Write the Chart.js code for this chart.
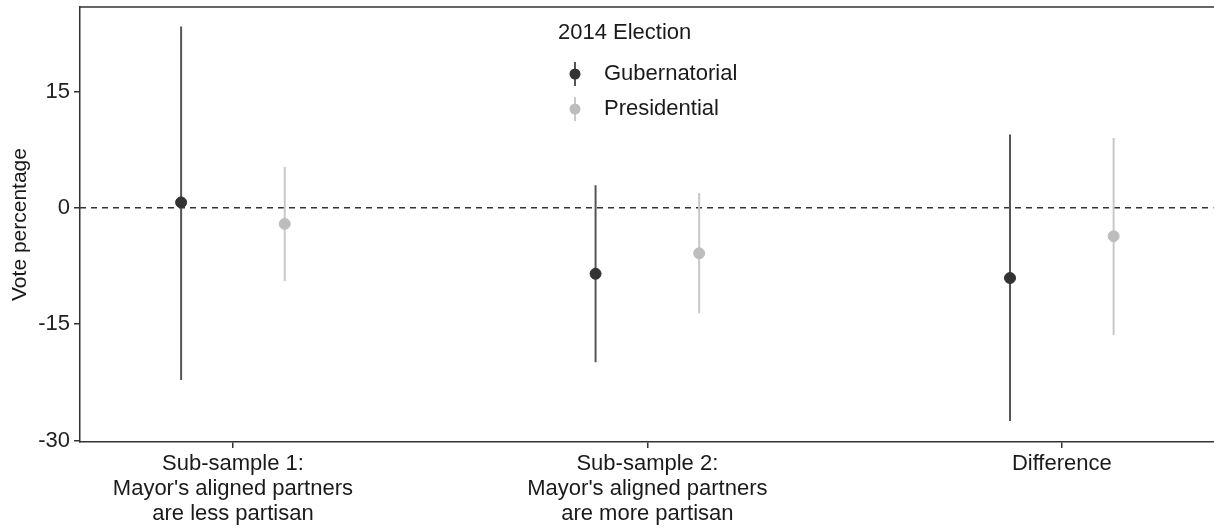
<!DOCTYPE html>
<html>
<head>
<meta charset="utf-8">
<script src="https://cdn.jsdelivr.net/npm/chart.js@4"></script>
<style>
  body { margin: 0; background: #fff; overflow: hidden; }
  #wrap { width: 1220px; height: 529px; }
</style>
</head>
<body>
<div id="wrap"><canvas id="voteChart"></canvas></div>
<script>
// Categorías y estimaciones
const categories = [
  ["Sub-sample 1:", "Mayor's aligned partners", "are less partisan"],
  ["Sub-sample 2:", "Mayor's aligned partners", "are more partisan"],
  ["Difference"]
];
const govEst  = [0.7, -8.5, -9.05];
const govLow  = [-22.2, -19.9, -27.5];
const govHigh = [23.4, 2.9, 9.45];
const presEst  = [-2.07, -5.86, -3.66];
const presLow  = [-9.45, -13.6, -16.4];
const presHigh = [5.26, 1.9, 9.0];
const yTicks = [-30, -15, 0, 15];
const seriesNames = ["Gubernatorial", "Presidential"];
const legendTitle = "2014 Election";

const dodge = 0.125;
const govColor = "#333333", govLine = "#555555";
const presColor = "#bdbdbd", presLine = "#c8c8c8";
const FONT = "'Liberation Sans', Arial, sans-serif";
const TXT = "#1a1a1a";

function points(est, off) {
  return est.map((v, i) => ({ x: i + 1 + off, y: v }));
}
function ranges(lo, hi, off) {
  const out = [];
  lo.forEach((v, i) => {
    out.push({ x: i + 1 + off, y: v }, { x: i + 1 + off, y: hi[i] }, { x: i + 1 + off, y: null });
  });
  return out;
}

// Línea de cero, borde superior y leyenda
const extras = {
  id: "extras",
  beforeDatasetsDraw(chart) {
    const { ctx, chartArea: a, scales: { y } } = chart;
    const y0 = y.getPixelForValue(0);
    ctx.save();
    ctx.strokeStyle = "#333";
    ctx.lineWidth = 1.5;
    ctx.setLineDash([6, 5]);
    ctx.beginPath();
    ctx.moveTo(a.left, y0);
    ctx.lineTo(a.right, y0);
    ctx.stroke();
    ctx.restore();
  },
  afterDraw(chart) {
    const { ctx, chartArea: a } = chart;
    ctx.save();
    ctx.strokeStyle = "#333";
    ctx.lineWidth = 1.5;
    ctx.beginPath();
    ctx.moveTo(a.left, a.top);
    ctx.lineTo(chart.width, a.top);
    ctx.stroke();

    ctx.fillStyle = TXT;
    ctx.font = "22px " + FONT;
    ctx.textBaseline = "middle";
    ctx.textAlign = "left";
    ctx.fillText(legendTitle, 558, 33);
    const items = [[govColor, govLine, 74], [presColor, presLine, 109]];
    items.forEach(([c, l, yy], i) => {
      ctx.strokeStyle = l;
      ctx.lineWidth = 2;
      ctx.beginPath();
      ctx.moveTo(575, yy - 12);
      ctx.lineTo(575, yy + 12);
      ctx.stroke();
      ctx.fillStyle = c;
      ctx.beginPath();
      ctx.arc(575, yy, 5.5, 0, Math.PI * 2);
      ctx.fill();
      ctx.fillStyle = TXT;
      ctx.fillText(seriesNames[i], 604, yy);
    });
    ctx.restore();
  }
};

const ctx = document.getElementById("voteChart").getContext("2d");
new Chart(ctx, {
  type: "scatter",
  data: {
    datasets: [
      { label: seriesNames[0], data: points(govEst, -dodge), backgroundColor: govColor, borderColor: govColor,
        pointRadius: 5.5, pointHoverRadius: 5.5, order: 0 },
      { label: seriesNames[1], data: points(presEst, dodge), backgroundColor: presColor, borderColor: presColor,
        pointRadius: 5.5, pointHoverRadius: 5.5, order: 0 },
      { type: "line", label: "gov range", data: ranges(govLow, govHigh, -dodge), borderColor: govLine,
        borderWidth: 2, pointRadius: 0, spanGaps: false, order: 1 },
      { type: "line", label: "pres range", data: ranges(presLow, presHigh, dodge), borderColor: presLine,
        borderWidth: 2, pointRadius: 0, spanGaps: false, order: 1 }
    ]
  },
  options: {
    responsive: true,
    maintainAspectRatio: false,
    animation: false,
    layout: { padding: { top: 7, right: 0, left: 0, bottom: 0 } },
    plugins: { legend: { display: false }, tooltip: { enabled: false } },
    scales: {
      x: {
        type: "linear",
        min: 0.631,
        max: 3.366,
        afterBuildTicks: s => { s.ticks = categories.map((c, i) => ({ value: i + 1 })); },
        afterFit: s => { s.height = 87; s.paddingLeft = 0; s.paddingRight = 0; },
        ticks: {
          callback: v => categories[v - 1],
          font: { family: FONT, size: 22, lineHeight: 1.12 },
          color: TXT,
          padding: 4,
          maxRotation: 0
        },
        grid: { drawOnChartArea: false, tickLength: 6, color: "#333", lineWidth: 1.5 },
        border: { color: "#333", width: 1.5 }
      },
      y: {
        min: -30.2,
        max: 25.9,
        afterBuildTicks: s => { s.ticks = yTicks.map(v => ({ value: v })); },
        afterFit: s => { s.width = 80; s.paddingTop = 0; s.paddingBottom = 0; },
        ticks: {
          font: { family: FONT, size: 22 },
          color: "#222",
          padding: 4
        },
        grid: { drawOnChartArea: false, tickLength: 6, color: "#333", lineWidth: 1.5 },
        border: { color: "#333", width: 1.5 },
        title: {
          display: true,
          text: "Vote percentage",
          font: { family: FONT, size: 21 },
          color: TXT,
          padding: { top: 8, bottom: 0 }
        }
      }
    }
  },
  plugins: [extras]
});
</script>
</body>
</html>
